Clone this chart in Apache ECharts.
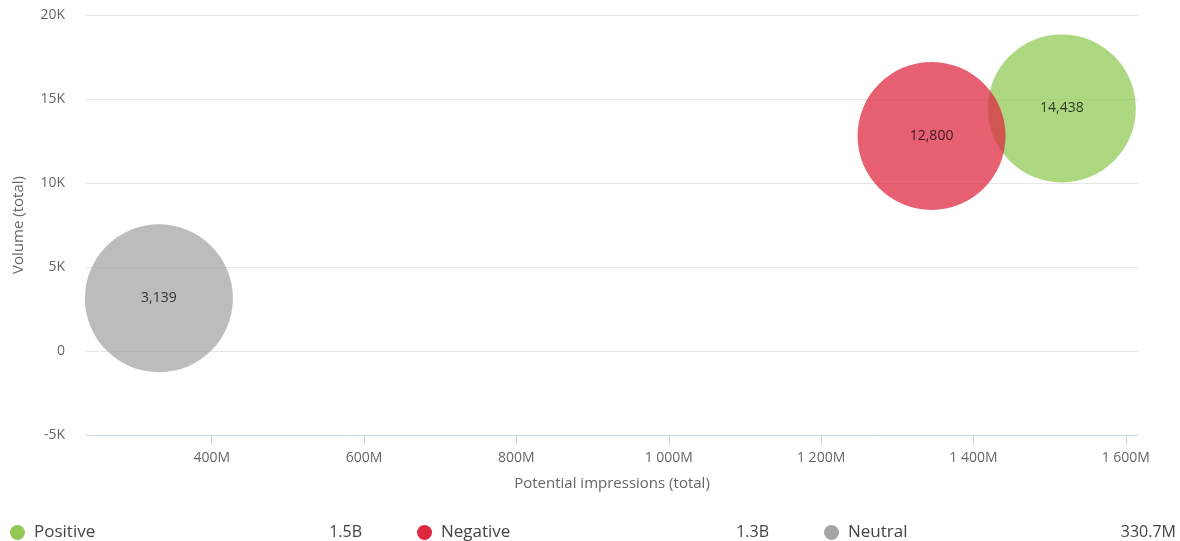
<!DOCTYPE html>
<html>
<head>
<meta charset="utf-8">
<script src="https://cdn.jsdelivr.net/npm/echarts@6/dist/echarts.min.js"></script>
<style>
  html, body { margin: 0; padding: 0; background: #fff; }
  #chart { width: 1180px; height: 541px; }
</style>
</head>
<body>
<div id="chart"></div>
<script>
// sentiment bubbles: x = potential impressions (M), y = volume
const names = ['Positive', 'Negative', 'Neutral'];
const colors = ['#92c956', '#dd2840', '#a5a5a5'];
const impressions = [1516, 1345, 330.7];
const volumes = [14438, 12800, 3139];
const xTicks = [400, 600, 800, 1000, 1200, 1400, 1600];

const font = '"Open Sans", "DejaVu Sans", sans-serif';

function fmtNum(v) {
  return String(Math.round(v)).replace(/\B(?=(\d{3})+(?!\d))/g, ',');
}
function fmtImp(v) {
  if (v >= 1000) return (v / 1000).toFixed(1) + 'B';
  return v.toFixed(1) + 'M';
}

var chart = echarts.init(document.getElementById('chart'));

var series = names.map(function (n, i) {
  return {
    name: n,
    type: 'scatter',
    symbolSize: 148,
    itemStyle: { color: colors[i], opacity: 0.74 },
    label: {
      show: true,
      position: 'inside',
      color: '#000',
      fontFamily: font,
      fontSize: 14,
      formatter: function (p) { return fmtNum(p.value[1]); }
    },
    emphasis: { disabled: true },
    data: [[impressions[i], volumes[i]]]
  };
});

var option = {
  animation: false,
  grid: { left: 86, right: 42, top: 15, bottom: 106 },
  xAxis: {
    type: 'value',
    min: 235,
    max: 1616,
    name: 'Potential impressions (total)',
    nameLocation: 'middle',
    nameGap: 41,
    nameTextStyle: { color: '#666', fontSize: 15, fontFamily: font },
    axisLine: { show: true, onZero: false, lineStyle: { color: '#ccd6eb' } },
    axisTick: { show: true, length: 10, lineStyle: { color: '#ccd6eb' }, customValues: xTicks },
    splitLine: { show: false },
    axisLabel: {
      customValues: xTicks,
      color: '#666',
      fontSize: 14,
      fontFamily: font,
      margin: 16,
      formatter: function (v) {
        return String(v).replace(/\B(?=(\d{3})+(?!\d))/g, ' ') + 'M';
      }
    }
  },
  yAxis: {
    type: 'value',
    min: -5000,
    max: 20000,
    interval: 5000,
    name: 'Volume (total)',
    nameLocation: 'middle',
    nameGap: 60,
    nameTextStyle: { color: '#666', fontSize: 15, fontFamily: font },
    axisLine: { show: false },
    axisTick: { show: false },
    splitLine: { lineStyle: { color: '#e6e6e6' } },
    axisLabel: {
      color: '#666',
      fontSize: 14,
      fontFamily: font,
      margin: 21,
      formatter: function (v) { return v === 0 ? '0' : (v / 1000) + 'K'; }
    }
  },
  legend: {
    left: 10,
    top: 519,
    padding: [5, 0],
    icon: 'circle',
    itemWidth: 15,
    itemHeight: 15,
    itemGap: 55,
    itemStyle: { opacity: 1 },
    data: names,
    formatter: function (n) {
      var i = names.indexOf(n);
      return '{n|' + n + '}{v|' + fmtImp(impressions[i]) + '}';
    },
    textStyle: {
      rich: {
        n: { width: 246, padding: [0, 0, 0, 4], fontSize: 17, color: '#444', fontFamily: font },
        v: { width: 82, align: 'right', fontSize: 16, color: '#444', fontFamily: font }
      }
    }
  },
  series: series
};

chart.setOption(option);
</script>
</body>
</html>
